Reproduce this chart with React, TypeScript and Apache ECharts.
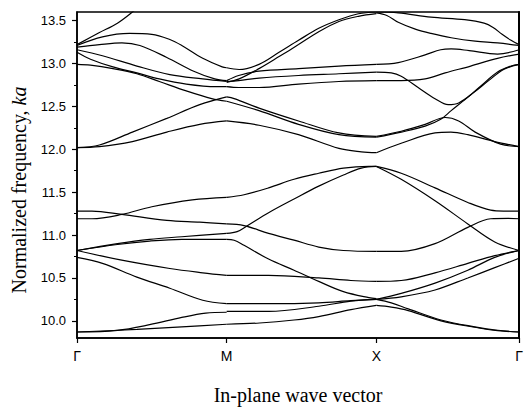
import React, { useEffect, useRef } from "react";
import * as echarts from "echarts";

type Pt = [number, number];

// k positions of the high-symmetry points (path Γ-M-X-Γ)
const xTickPositions = [0, 1, 2, 2.954];
const xTickLabels = ["Γ", "M", "X", "Γ"];
const yTicks = [10.0, 10.5, 11.0, 11.5, 12.0, 12.5, 13.0, 13.5];
const yMinorTicks = [10.25, 10.75, 11.25, 11.75, 12.25, 12.75, 13.25];

// Band segments Γ → M
const gammaM: Pt[][] = [
  [[0, 9.87], [0.4, 9.9], [0.7, 9.93], [1.0, 9.96]],
  [[0, 9.87], [0.27, 9.89], [0.485, 9.955], [0.7, 10.04], [0.86, 10.09], [1.0, 10.1]],
  [[0, 10.74], [0.17, 10.67], [0.4, 10.51], [0.62, 10.38], [0.84, 10.24], [1.0, 10.2]],
  [[0, 10.82], [0.29, 10.71], [0.62, 10.61], [0.84, 10.56], [1.0, 10.53]],
  [[0, 10.82], [0.27, 10.89], [0.485, 10.93], [0.7, 10.95], [1.0, 10.95]],
  [[0, 10.82], [0.27, 10.9], [0.485, 10.95], [0.7, 10.98], [1.0, 11.02]],
  [[0, 11.19], [0.1, 11.19], [0.3, 11.24], [0.5, 11.33], [0.77, 11.41], [1.0, 11.44]],
  [[0, 11.28], [0.1, 11.28], [0.3, 11.24], [0.6, 11.17], [0.82, 11.15], [1.0, 11.13]],
  [[0, 12.02], [0.15, 12.03], [0.37, 12.09], [0.6, 12.2], [0.82, 12.29], [1.0, 12.33]],
  [[0, 12.02], [0.15, 12.05], [0.37, 12.2], [0.6, 12.36], [0.82, 12.52], [1.0, 12.61]],
  [[0, 12.99], [0.09, 12.98], [0.24, 12.94], [0.4, 12.88], [0.55, 12.79], [0.73, 12.68], [0.9, 12.59], [1.0, 12.56]],
  [[0, 13.13], [0.09, 13.05], [0.24, 12.96], [0.4, 12.89], [0.55, 12.82], [0.73, 12.76], [0.93, 12.73], [1.0, 12.73]],
  [[0, 13.16], [0.17, 13.09], [0.4, 12.97], [0.62, 12.87], [0.84, 12.82], [1.0, 12.79]],
  [[0, 13.19], [0.15, 13.22], [0.3, 13.24], [0.42, 13.21], [0.6, 13.07], [0.78, 12.91], [0.92, 12.82], [1.0, 12.8]],
  [[0, 13.21], [0.17, 13.31], [0.35, 13.35], [0.5, 13.34], [0.62, 13.28], [0.7, 13.21], [0.84, 13.06], [0.97, 12.96], [1.0, 12.95]],
  [[0, 13.22], [0.15, 13.36], [0.27, 13.47], [0.37, 13.6], [0.45, 13.72]],
];

// Band segments M → X
const mX: Pt[][] = [
  [[1.0, 9.96], [1.22, 9.975], [1.45, 10.01], [1.615, 10.05], [1.83, 10.13], [2.0, 10.18]],
  [[1.0, 10.11], [1.28, 10.11], [1.615, 10.17], [1.83, 10.23], [2.0, 10.25]],
  [[1.0, 10.2], [1.28, 10.2], [1.615, 10.21], [1.83, 10.235], [2.0, 10.25]],
  [[1.0, 10.53], [1.28, 10.53], [1.615, 10.5], [1.83, 10.47], [2.0, 10.46]],
  [[1.0, 10.95], [1.05, 10.94], [1.116, 10.88], [1.28, 10.72], [1.45, 10.59], [1.615, 10.46], [1.78, 10.34], [1.95, 10.27], [2.0, 10.26]],
  [[1.0, 11.02], [1.07, 11.04], [1.13, 11.1], [1.28, 11.26], [1.45, 11.42], [1.615, 11.57], [1.78, 11.7], [1.9, 11.78], [2.0, 11.8]],
  [[1.0, 11.13], [1.116, 11.11], [1.28, 11.02], [1.45, 10.94], [1.615, 10.86], [1.78, 10.82], [2.0, 10.81]],
  [[1.0, 11.44], [1.116, 11.47], [1.28, 11.55], [1.45, 11.65], [1.615, 11.72], [1.78, 11.78], [1.95, 11.8], [2.0, 11.8]],
  [[1.0, 12.33], [1.216, 12.28], [1.48, 12.17], [1.75, 12.01], [1.9, 11.97], [2.0, 11.96]],
  [[1.0, 12.56], [1.216, 12.45], [1.48, 12.29], [1.75, 12.17], [2.0, 12.14]],
  [[1.0, 12.61], [1.05, 12.59], [1.216, 12.48], [1.48, 12.33], [1.75, 12.19], [2.0, 12.15]],
  [[1.0, 12.73], [1.08, 12.72], [1.216, 12.72], [1.48, 12.76], [1.75, 12.79], [2.0, 12.8]],
  [[1.0, 12.79], [1.08, 12.8], [1.216, 12.83], [1.48, 12.86], [1.75, 12.88], [2.0, 12.9]],
  [[1.0, 12.8], [1.08, 12.86], [1.216, 12.91], [1.48, 12.94], [1.75, 12.97], [2.0, 12.99]],
  [[1.0, 12.78], [1.083, 12.82], [1.216, 12.94], [1.35, 13.08], [1.48, 13.22], [1.615, 13.37], [1.75, 13.49], [1.88, 13.55], [2.0, 13.58]],
  [[1.0, 12.95], [1.083, 12.93], [1.216, 12.99], [1.35, 13.13], [1.48, 13.27], [1.615, 13.41], [1.75, 13.51], [1.88, 13.58], [2.0, 13.6]],
];

// Band segments X → Γ
const xGamma: Pt[][] = [
  [[2.0, 11.8], [2.166, 11.72], [2.392, 11.55], [2.611, 11.38], [2.764, 11.29], [2.85, 11.28], [2.954, 11.28]],
  [[2.0, 11.8], [2.166, 11.65], [2.392, 11.4], [2.611, 11.13], [2.791, 10.92], [2.954, 10.82]],
  [[2.0, 10.81], [2.166, 10.81], [2.392, 10.9], [2.611, 11.09], [2.764, 11.19], [2.88, 11.195], [2.954, 11.19]],
  [[2.0, 10.46], [2.166, 10.47], [2.392, 10.56], [2.611, 10.67], [2.791, 10.76], [2.954, 10.82]],
  [[2.0, 10.25], [2.166, 10.32], [2.392, 10.44], [2.611, 10.59], [2.791, 10.74], [2.954, 10.82]],
  [[2.0, 10.25], [2.166, 10.28], [2.392, 10.36], [2.611, 10.5], [2.791, 10.62], [2.954, 10.73]],
  [[2.0, 10.25], [2.1, 10.21], [2.213, 10.14], [2.432, 10.01], [2.658, 9.93], [2.811, 9.89], [2.954, 9.87]],
  [[2.0, 10.18], [2.1, 10.16], [2.213, 10.12], [2.432, 10.0], [2.658, 9.925], [2.811, 9.885], [2.954, 9.87]],
  [[2.0, 11.96], [2.166, 12.07], [2.392, 12.19], [2.498, 12.2], [2.611, 12.17], [2.79, 12.09], [2.954, 12.03]],
  [[2.0, 12.15], [2.166, 12.21], [2.326, 12.29], [2.46, 12.37], [2.55, 12.33], [2.66, 12.2], [2.83, 12.06], [2.954, 12.03]],
  [[2.0, 12.14], [2.166, 12.2], [2.326, 12.27], [2.43, 12.35], [2.5, 12.45], [2.6, 12.59], [2.7, 12.74], [2.81, 12.9], [2.9, 12.97], [2.954, 12.99]],
  [[2.0, 12.9], [2.1, 12.89], [2.166, 12.85], [2.279, 12.72], [2.392, 12.59], [2.48, 12.52], [2.55, 12.54], [2.65, 12.66], [2.75, 12.8], [2.85, 12.93], [2.954, 12.99]],
  [[2.0, 12.8], [2.166, 12.8], [2.326, 12.82], [2.46, 12.89], [2.63, 12.97], [2.81, 13.06], [2.954, 13.11]],
  [[2.0, 12.99], [2.146, 13.01], [2.326, 13.1], [2.43, 13.16], [2.5, 13.17], [2.62, 13.15], [2.81, 13.11], [2.954, 13.16]],
  [[2.0, 13.59], [2.07, 13.56], [2.146, 13.48], [2.26, 13.4], [2.365, 13.35], [2.5, 13.3], [2.66, 13.26], [2.81, 13.24], [2.954, 13.21]],
  [[2.0, 13.6], [2.146, 13.59], [2.365, 13.54], [2.59, 13.51], [2.72, 13.47], [2.78, 13.42], [2.84, 13.34], [2.9, 13.27], [2.954, 13.22]],
];

const K_END = xTickPositions[xTickPositions.length - 1];
const Y_MIN = 9.8;
const Y_MAX = 13.6;

export default function App() {
  const ref = useRef<HTMLDivElement>(null);
  useEffect(() => {
    if (!ref.current) return;
    const chart = echarts.init(ref.current, undefined, { renderer: "svg" });
    const segs = [...gammaM, ...mX, ...xGamma];
    const series = segs.map((seg) => ({
      type: "line",
      data: seg,
      smooth: 0.35,
      symbol: "none",
      silent: true,
      clip: true,
      lineStyle: { color: "#000", width: 1.2 },
    }));
    chart.setOption({
      animation: false,
      backgroundColor: "#fff",
      grid: {
        left: 77,
        right: 4.5,
        top: 12,
        bottom: 69,
        show: true,
        borderColor: "#000",
        borderWidth: 1.5,
      },
      xAxis: {
        type: "value",
        min: 0,
        max: K_END,
        axisLine: { show: true, lineStyle: { color: "#000", width: 1.5 } },
        axisTick: {
          show: true,
          length: 5,
          customValues: xTickPositions,
          lineStyle: { color: "#000", width: 1.2 },
        },
        axisLabel: {
          customValues: xTickPositions,
          showMinLabel: true,
          showMaxLabel: true,
          margin: 11,
          fontSize: 14,
          color: "#000",
          fontFamily: "Liberation Sans, Arial, sans-serif",
          formatter: (v: number) => {
            const i = xTickPositions.findIndex((p) => Math.abs(p - v) < 1e-6);
            return i >= 0 ? xTickLabels[i] : "";
          },
        },
        splitLine: { show: false },
        name: "In-plane wave vector",
        nameLocation: "middle",
        nameGap: 47,
        nameTextStyle: {
          fontFamily: "Liberation Serif, Times New Roman, serif",
          fontSize: 20,
          color: "#000",
        },
      },
      yAxis: [
        {
          type: "value",
          min: Y_MIN,
          max: Y_MAX,
          position: "left",
          axisLine: { show: true, lineStyle: { color: "#000", width: 1.5 } },
          axisTick: {
            show: true,
            length: 5,
            customValues: yTicks,
            lineStyle: { color: "#000", width: 1.2 },
          },
          axisLabel: {
            customValues: yTicks,
            showMinLabel: true,
            showMaxLabel: true,
            margin: 11,
            fontSize: 13,
            color: "#000",
            fontFamily: "Liberation Sans, Arial, sans-serif",
            formatter: (v: number) => v.toFixed(1),
          },
          splitLine: { show: false },
        },
        {
          type: "value",
          min: Y_MIN,
          max: Y_MAX,
          position: "left",
          axisLine: { show: false },
          axisTick: {
            show: true,
            length: 3,
            customValues: yMinorTicks,
            lineStyle: { color: "#000", width: 1 },
          },
          axisLabel: { show: false },
          splitLine: { show: false },
        },
        {
          type: "value",
          min: Y_MIN,
          max: Y_MAX,
          position: "right",
          axisLine: { show: true, lineStyle: { color: "#000", width: 2 } },
          axisTick: { show: false },
          axisLabel: { show: false },
          splitLine: { show: false },
        },
      ],
      graphic: [
        {
          type: "text",
          x: 19,
          y: 190,
          rotation: Math.PI / 2,
          style: {
            text: "Normalized frequency, {i|ka}",
            rich: {
              i: {
                fontStyle: "italic",
                fontSize: 20,
                fontFamily: "Liberation Serif, Times New Roman, serif",
                fill: "#000",
              },
            },
            fontSize: 20,
            fontFamily: "Liberation Serif, Times New Roman, serif",
            fill: "#000",
            align: "center",
            verticalAlign: "middle",
          },
        },
      ],
      series,
    });
    return () => chart.dispose();
  }, []);
  return (
    <div
      ref={ref}
      style={{ position: "fixed", left: 0, top: 0, width: 526, height: 410, background: "#fff" }}
    />
  );
}
